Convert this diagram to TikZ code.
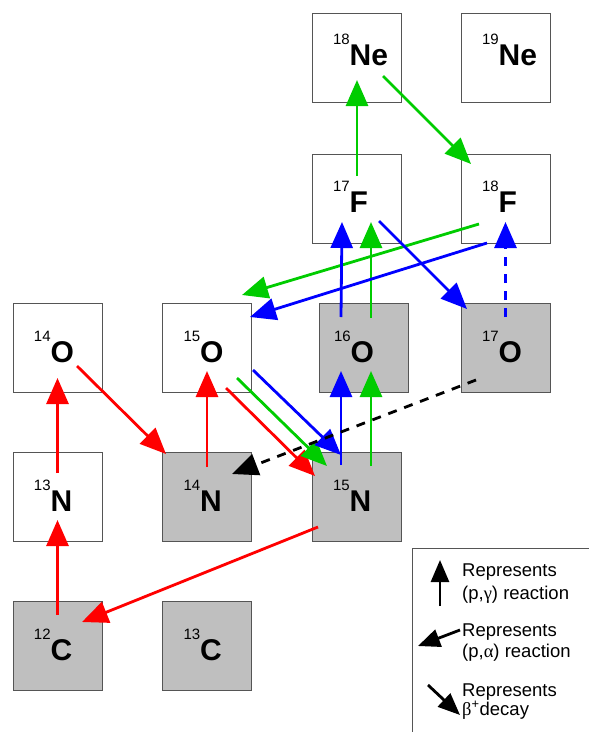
\documentclass[tikz,border=0pt]{standalone}
\usepackage{fontspec}
\setmainfont{Liberation Sans}
\newfontfamily\greekfont{Liberation Serif}
\usetikzlibrary{arrows.meta,calc}
\definecolor{rxred}{HTML}{FF0000}
\definecolor{rxgreen}{HTML}{00CC00}
\definecolor{rxblue}{HTML}{0000FF}
\definecolor{stablegray}{HTML}{BFBFBF}
\definecolor{boxline}{HTML}{555555}

\newcommand{\nuc}[2]{\raisebox{21pt}{\fontsize{15}{15}\selectfont #1}{\fontsize{30}{30}\selectfont\bfseries #2}}

\tikzset{
  nucbox/.style={draw=boxline,line width=1pt,minimum size=89pt,inner sep=0pt,
    text width=47pt,align=left,text height=28pt,text depth=0pt},
  stable/.style={nucbox,fill=stablegray},
  toprow/.style={text height=15pt},
  rxn/.style={line width=2.8pt,-{Triangle[length=26pt,width=22pt]}},
  keyarrow/.style={line width=2.8pt,-{Triangle[length=22pt,width=18pt]}},
  dashline/.style={dash pattern=on 9pt off 8pt},
  keytext/.style={anchor=base west,inner sep=0pt,align=left}
}

\begin{document}
\begin{tikzpicture}[x=1pt,y=-1pt]
\useasboundingbox (0,0) rectangle (589,732);

% nuclei
\node[nucbox,toprow] (Ne18) at (356.5,57.5) {\nuc{18}{Ne}};
\node[nucbox,toprow] (Ne19) at (505.5,57.5) {\nuc{19}{Ne}};
\node[nucbox] (F17) at (356.5,198.5) {\nuc{17}{F}};
\node[nucbox] (F18) at (505.5,198.5) {\nuc{18}{F}};
\node[nucbox] (O14) at (57.5,348) {\nuc{14}{O}};
\node[nucbox] (O15) at (207,348) {\nuc{15}{O}};
\node[stable,text width=59pt] (O16) at (363.5,348) {\nuc{16}{O}};
\node[stable] (O17) at (505.5,348) {\nuc{17}{O}};
\node[nucbox] (N13) at (57.5,497) {\nuc{13}{N}};
\node[stable] (N14) at (207,497) {\nuc{14}{N}};
\node[stable] (N15) at (356.5,497) {\nuc{15}{N}};
\node[stable] (C12) at (57.5,646) {\nuc{12}{C}};
\node[stable] (C13) at (207,646) {\nuc{13}{C}};

% CN cycle
\begin{scope}[rxn,rxred]
\draw ($(C12)+(0,-31)$) -- ($(N13)+(0,23)$);
\draw ($(N13)+(0,-24)$) -- ($(O14)+(0,30)$);
\draw ($(O14)+(19.5,18)$) -- ($(N14)+(-41,-43)$);
\draw ($(N14)+(0,-30)$) -- ($(O15)+(0,23)$);
\draw ($(O15)+(19,40)$) -- ($(N15)+(-41.5,-21)$);
\draw ($(N15)+(-38.5,30)$) -- ($(C12)+(24.5,-24)$);
\end{scope}

% NO cycle
\begin{scope}[rxn,rxgreen]
\draw ($(O15)+(30,30)$) -- ($(N15)+(-29.5,-31)$);
\draw ($(N15)+(14.5,-31)$) -- ($(O16)+(7.5,23)$);
\draw ($(O16)+(7.5,-30)$) -- ($(F17)+(14.5,23.5)$);
\draw ($(F17)+(0.5,-22.5)$) -- ($(Ne18)+(0.5,22.5)$);
\draw ($(Ne18)+(26.5,18.5)$) -- ($(F18)+(-34.5,-34.5)$);
\draw ($(F18)+(-26.5,25.5)$) -- ($(O15)+(35,-53)$);
\end{scope}

\begin{scope}[rxn,rxblue]
\draw ($(O15)+(46,22)$) -- ($(N15)+(-15.5,-42)$);
\draw ($(N15)+(-15.5,-32)$) -- ($(O16)+(-22.5,23)$);
\draw ($(O16)+(-22.5,-31)$) -- ($(F17)+(-14.5,23.5)$);
\draw ($(F17)+(22.5,22.5)$) -- ($(O17)+(-38.5,-39)$);
\draw ($(F18)+(-18.5,44.5)$) -- ($(O15)+(43,-31)$);
\draw[dashline] ($(O17)+(0,-31)$) -- ($(F18)+(0,23.5)$);
\end{scope}

\draw[rxn,black,dashline] ($(O17)+(-29.5,32)$) -- ($(N14)+(25,-23)$);

% key
\draw[boxline,line width=1pt] (412,732) -- (412,548) -- (589,548);
\coordinate (k1a) at (440,606);
\coordinate (k1b) at (440,560);
\coordinate (k2a) at (460,630);
\coordinate (k2b) at (418,646);
\coordinate (k3a) at (428,685);
\coordinate (k3b) at (460,715);
\draw[keyarrow] (k1a) -- (k1b);
\draw[keyarrow] (k2a) -- (k2b);
\draw[keyarrow] (k3a) -- (k3b);
\node[keytext,font=\fontsize{18.5}{23}\selectfont] (key1) at (462,599) {Represents\\(p,{\greekfont γ}) reaction};
\node[keytext,font=\fontsize{18.5}{21}\selectfont] (key2) at (462,657) {Represents\\(p,{\greekfont α}) reaction};
\node[keytext,font=\fontsize{18.5}{17}\selectfont] (key3) at (462,715) {Represents\\{\greekfont β}\textsuperscript{+}decay};
\end{tikzpicture}
\end{document}
